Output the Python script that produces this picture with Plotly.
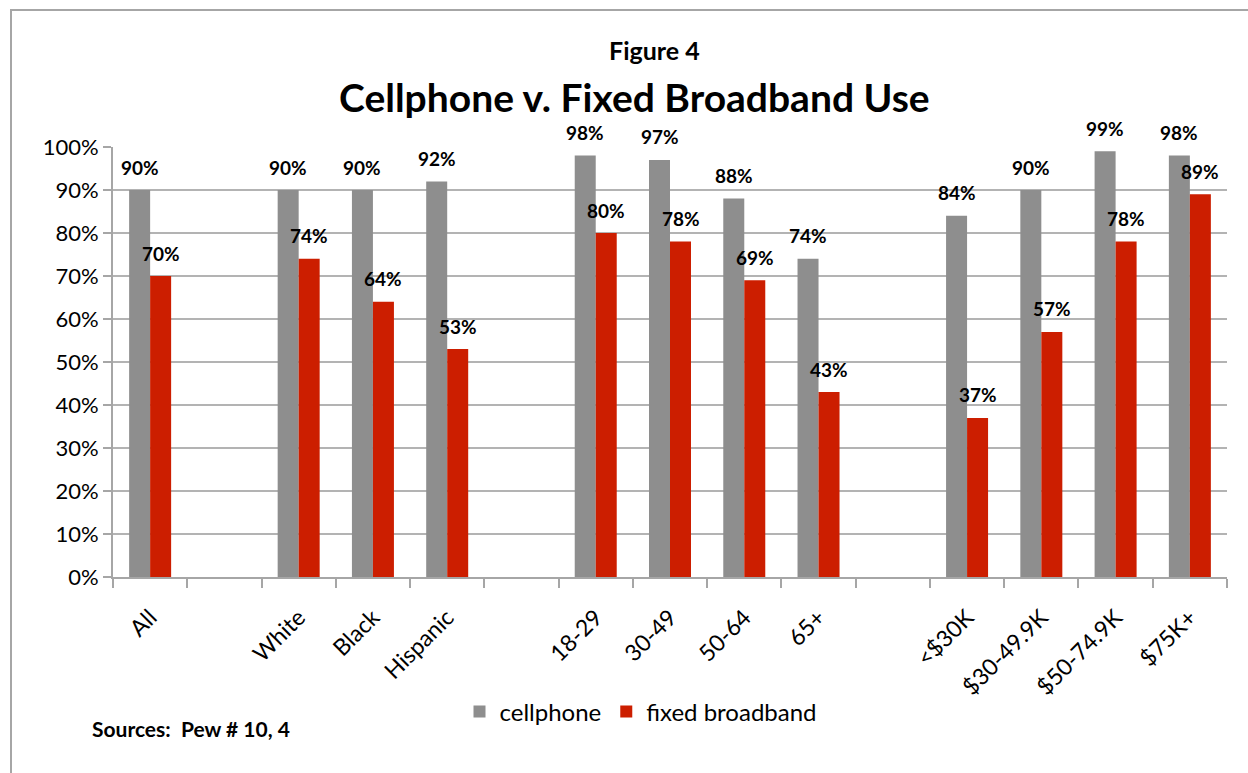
import plotly.graph_objects as go

# Demographic groups; empty strings are spacer slots between the groups
categories = ["All", "", "White", "Black", "Hispanic", "",
              "18-29", "30-49", "50-64", "65+", "",
              "<$30K", "$30-49.9K", "$50-74.9K", "$75K+"]
cellphone = [90, None, 90, 90, 92, None, 98, 97, 88, 74, None, 84, 90, 99, 98]
fixed_broadband = [70, None, 74, 64, 53, None, 80, 78, 69, 43, None, 37, 57, 78, 89]

FONT = "Lato, 'Open Sans', sans-serif"
GRAY = "#8e8e8e"
RED = "#cc1e00"
AXIS = "#a6a6a6"

xs = list(range(len(categories)))
label_x = [i for i, c in enumerate(categories) if c]
label_text = [c for c in categories if c]


def pts(vals):
    x = [i for i, v in zip(xs, vals) if v is not None]
    y = [v for v in vals if v is not None]
    return x, y


fig = go.Figure()
cx, cy = pts(cellphone)
fx, fy = pts(fixed_broadband)
fig.add_trace(go.Bar(x=cx, y=cy, name="cellphone", marker_color=GRAY,
                     marker_line_width=0))
fig.add_trace(go.Bar(x=fx, y=fy, name="fixed broadband", marker_color=RED,
                     marker_line_width=0))

# value labels above each bar
annotations = []
for xv, yv, shift in [(cx, cy, -10.5), (fx, fy, 10.5)]:
    for x, y in zip(xv, yv):
        annotations.append(dict(
            x=x, y=y, xref="x", yref="y", text=f"<b>{y}%</b>",
            showarrow=False, xshift=shift, yshift=23, yanchor="middle",
            font=dict(family=FONT, size=19, color="black")))

annotations += [
    dict(text="<b>Figure 4</b>", xref="paper", yref="paper",
         x=(654 - 113) / 1114, y=(577 - 50) / 430, showarrow=False,
         yanchor="middle", font=dict(family=FONT, size=25, color="black")),
    dict(text="<b>Cellphone v. Fixed Broadband Use</b>", xref="paper",
         yref="paper", x=(634 - 113) / 1114, y=(577 - 97) / 430,
         yanchor="middle", showarrow=False,
         font=dict(family=FONT, size=39, color="black")),
    dict(text="<b>Sources:  Pew # 10, 4</b>", xref="paper", yref="paper",
         x=(90 - 113) / 1114, y=(577 - 728) / 430, xanchor="left",
         yanchor="middle", showarrow=False,
         font=dict(family=FONT, size=21, color="black")),
]

fig.update_layout(
    width=1248, height=773,
    margin=dict(l=113, r=21, t=147, b=196),
    paper_bgcolor="white", plot_bgcolor="white",
    barmode="group", bargap=0.4345, bargroupgap=0,
    font=dict(family=FONT, size=22, color="black"),
    showlegend=True,
    legend=dict(orientation="h", x=(641 - 113) / 1114, xanchor="center",
                y=(577 - 712) / 430, yanchor="middle",
                font=dict(family=FONT, size=24, color="black"),
                itemwidth=30, tracegroupgap=0),
    annotations=annotations,
    shapes=[dict(type="rect", xref="paper", yref="paper",
                 x0=(11 - 113) / 1114, x1=1.2, y0=-1.0, y1=(577 - 10) / 430,
                 line=dict(color=AXIS, width=2), layer="below")],
)

fig.update_xaxes(
    range=[-0.5, len(categories) - 0.5],
    tickmode="array", tickvals=label_x, ticktext=label_text,
    tickangle=-45, ticks="outside", ticklen=16,
    tickcolor="rgba(0,0,0,0)", showgrid=False,
    showline=True, linecolor=AXIS, linewidth=2,
    minor=dict(ticks="outside", tick0=-0.5, dtick=1, ticklen=9,
               tickcolor=AXIS, tickwidth=2, showgrid=False),
    tickfont=dict(family=FONT, size=23, color="black"),
)
fig.update_yaxes(
    range=[0, 100], dtick=10, ticksuffix="%",
    showgrid=True, gridcolor="#b3b3b3", gridwidth=2,
    showline=True, linecolor=AXIS, linewidth=2,
    ticks="outside", ticklen=8, tickcolor=AXIS, tickwidth=2,
    tickfont=dict(family=FONT, size=22, color="black"),
    zeroline=False,
)

fig.write_html("out.html")
